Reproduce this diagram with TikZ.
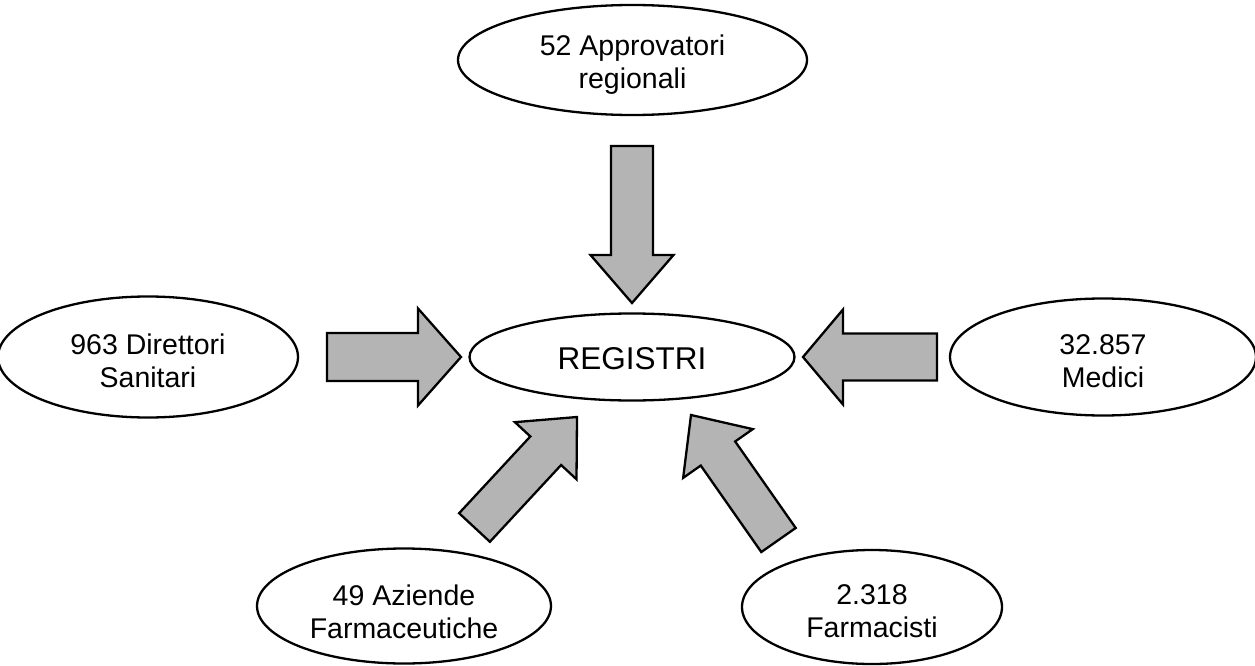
\documentclass[tikz,border=0pt]{standalone}
\usepackage{fontspec}
\setmainfont{Liberation Sans}
\usetikzlibrary{calc,shapes.geometric}
\definecolor{arrowgray}{RGB}{180,180,180}

% block arrow between coordinates <name>-tail and <name>-tip
% #2 half shaft width, #3 half head width, #4 head length
\newcommand{\blockarrow}[4]{%
  \coordinate (#1-base) at ($(#1-tip)!#4pt!(#1-tail)$);
  \draw[blockarrow]
    ($(#1-tail)!#2pt!90:(#1-tip)$) -- ($(#1-base)!#2pt!90:(#1-tip)$)
    -- ($(#1-base)!#3pt!90:(#1-tip)$) -- (#1-tip)
    -- ($(#1-base)!#3pt!-90:(#1-tip)$) -- ($(#1-base)!#2pt!-90:(#1-tip)$)
    -- ($(#1-tail)!#2pt!-90:(#1-tip)$) -- cycle;
}

\tikzset{
  bubble/.style={ellipse, draw, line width=2.3pt, inner sep=0pt},
  lbl/.style={align=center, font=\fontsize{28.5}{33}\selectfont, inner sep=0pt},
  blockarrow/.style={draw, fill=arrowgray, line width=2.3pt, line join=miter},
}

\begin{document}
\begin{tikzpicture}[x=1pt, y=-1pt]
\useasboundingbox[fill=white] (0,0) rectangle (1255,666);

% ellipses
\node[bubble, minimum width=349pt, minimum height=110pt] (top) at (632.5,60) {};
\node[lbl] (topText) at ([yshift=-5pt]top.center) {52 Approvatori\\regionali};

\node[bubble, minimum width=300pt, minimum height=121pt] (left) at (148,357) {};
\node[lbl] (leftText) at ([yshift=-4pt]left.center) {963 Direttori\\Sanitari};

\node[bubble, minimum width=325pt, minimum height=87pt] (center) at (632,357) {};
\node[lbl, font=\fontsize{31.5}{36}\selectfont] (centerText) at ([yshift=-2pt]center.center) {REGISTRI};

\node[bubble, minimum width=306pt, minimum height=117pt] (right) at (1103,357) {};
\node[lbl] (rightText) at ([yshift=-4pt]right.center) {32.857\\Medici};

\node[bubble, minimum width=294pt, minimum height=115pt] (bleft) at (404,606) {};
\node[lbl] (bleftText) at ([yshift=-6pt]bleft.center) {49 Aziende\\Farmaceutiche};

\node[bubble, minimum width=260pt, minimum height=114pt] (bright) at (872,607) {};
\node[lbl] (brightText) at ([yshift=-4pt]bright.center) {2.318\\Farmacisti};

% arrows pointing to the centre
\coordinate (aTop-tail) at (632,146);
\coordinate (aTop-tip) at (632,303);
\blockarrow{aTop}{21}{41.5}{48}

\coordinate (aLeft-tail) at (327,357);
\coordinate (aLeft-tip) at (461,357);
\blockarrow{aLeft}{24}{48.5}{43}

\coordinate (aRight-tail) at (937,357);
\coordinate (aRight-tip) at (803,357);
\blockarrow{aRight}{23.5}{47.5}{40}

\coordinate (aBL-tail) at (474.5,527.5);
\coordinate (aBL-tip) at (577,417);
\blockarrow{aBL}{21}{42}{46}

\coordinate (aBR-tail) at (778.5,540);
\coordinate (aBR-tip) at (691,415);
\blockarrow{aBR}{21}{42.5}{47}
\end{tikzpicture}
\end{document}
